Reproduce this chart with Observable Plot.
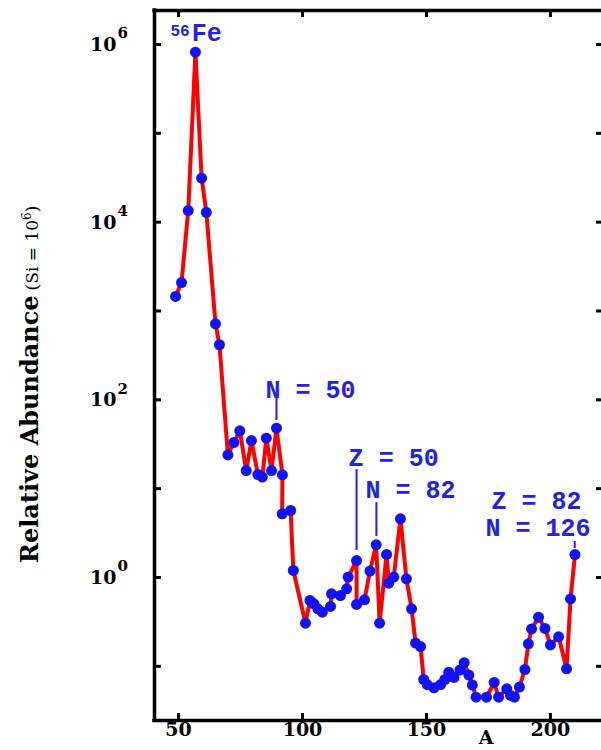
<!DOCTYPE html>
<html>
<head>
<meta charset="utf-8">
<script src="https://cdn.jsdelivr.net/npm/d3@7"></script>
<script src="https://cdn.jsdelivr.net/npm/@observablehq/plot@0.6"></script>
<style>
  body { margin: 0; background: #ffffff; }
  #chart svg { display: block; }
</style>
</head>
<body>
<div id="chart"></div>
<script>
// ---- data ----
const massNumber = [48.8, 51.2, 53.9, 56.8, 59.3, 61.2, 64.9, 66.5, 69.9, 72.3,
  74.7, 77.3, 79.4, 82.0, 83.8, 85.4, 87.5, 89.5, 91.9, 91.8,
  95.2, 96.3, 101.2, 103.0, 104.6, 106.2, 108.0, 111.3, 111.7, 115.3,
  117.8, 118.4, 121.8, 121.8, 125.0, 127.2, 129.7, 131.1, 133.9, 134.8,
  136.8, 139.5, 141.9, 144.0, 145.6, 147.6, 148.9, 150.3, 153.0, 155.7,
  157.4, 159.0, 161.1, 163.5, 165.2, 167.1, 168.5, 170.0, 174.2, 177.3,
  179.1, 182.4, 183.9, 185.5, 187.5, 189.7, 191.1, 192.4, 195.2, 197.8,
  200.0, 203.3, 206.5, 208.1, 209.9];
const abundance = [1460, 2090, 13500, 819000, 31300, 12900, 718, 417, 24.0, 33.1,
  44.8, 16.0, 34.8, 14.4, 13.5, 37.0, 16.0, 48.0, 14.3, 5.21,
  5.68, 1.20, 0.306, 0.551, 0.506, 0.444, 0.407, 0.472, 0.655, 0.627,
  0.746, 1.01, 1.55, 0.497, 0.561, 1.18, 2.33, 0.306, 1.82, 0.863,
  1.01, 4.58, 0.967, 0.444, 0.183, 0.167, 0.0711, 0.0624, 0.0573, 0.0624,
  0.0711, 0.0859, 0.0749, 0.0909, 0.110, 0.0798, 0.0616, 0.0449, 0.0449, 0.0658,
  0.0449, 0.0558, 0.0470, 0.0449, 0.0585, 0.0921, 0.179, 0.264, 0.357, 0.267,
  0.174, 0.215, 0.0938, 0.573, 1.81];

const xTickValues = [50, 100, 150, 200];
const yTickValues = [0.1, 1, 10, 100, 1e3, 1e4, 1e5, 1e6];
const yLabelValues = [1, 100, 1e4, 1e6];
const yLabelExponents = ["0", "2", "4", "6"];

const annotationText = ["N = 50", "Z = 50", "N = 82", "Z = 82", "N = 126"];
const annotationA = [85.1, 118.6, 125.4, 176.2, 173.8];
const annotationValue = [129.7, 22.3, 9.71, 7.30, 3.63];

const guideA = [89.5, 121.8, 129.8, 209.8];
const guideTop = [103.5, 16.4, 6.98, 2.54];
const guideBottom = [58.5, 2.01, 2.90, 2.12];

const feText = ["Fe"], feA = [55.3], feValue = [1.355e6];
const feSupText = ["56"], feSupA = [46.75], feSupValue = [1.44e6];

// ---- layout ----
const W = 601, H = 750;
const mL = 154, mR = 0, mT = 10, mB = 30;
const frameW = W - mL - mR, frameH = H - mT - mB;
const xDomain = [40.3, 220.6];
const yDomain = [0.02456, 2.414e6];
const serif = "DejaVu Serif";
const mono = "Liberation Mono";
const dotBlue = "#1212f2", textBlue = "#2222e4", red = "#ff0000";

const data = massNumber.map((A, i) => ({A, v: abundance[i]}));

const chart = Plot.plot({
  width: W, height: H,
  marginLeft: mL, marginRight: mR, marginTop: mT, marginBottom: mB,
  x: {domain: xDomain, axis: null},
  y: {type: "log", domain: yDomain, axis: null},
  style: {background: "white", fontFamily: serif, color: "black"},
  marks: [
    // ticks (inside)
    Plot.tickX(xTickValues, {x: d => d, insetTop: frameH - 7, stroke: "black", strokeWidth: 3}),
    Plot.tickX(xTickValues, {x: d => d, insetBottom: frameH - 7, stroke: "black", strokeWidth: 3}),
    Plot.tickY(yTickValues, {y: d => d, insetRight: frameW - 7, stroke: "black", strokeWidth: 3}),
    Plot.tickY(yTickValues, {y: d => d, insetLeft: frameW - 5, stroke: "black", strokeWidth: 3}),
    // axis lines
    Plot.ruleX([xDomain[0]], {stroke: "black", strokeWidth: 3.5, strokeLinecap: "square"}),
    Plot.ruleY([yDomain[0]], {stroke: "black", strokeWidth: 3.5, strokeLinecap: "square"}),
    Plot.ruleY([yDomain[1]], {stroke: "black", strokeWidth: 3.5, strokeLinecap: "square"}),
    // tick labels
    Plot.text(xTickValues, {x: d => d, text: d => String(d), frameAnchor: "bottom", dy: 15,
      fontSize: 19, fontWeight: "bold", fontFamily: serif, fill: "black"}),
    Plot.text(yLabelValues, {y: d => d, text: () => "10", frameAnchor: "left", textAnchor: "end",
      dx: -38, dy: 0.5, fontSize: 19, fontWeight: "bold", fontFamily: serif, fill: "black"}),
    Plot.text(yLabelValues, {y: d => d, text: (d, i) => yLabelExponents[i], frameAnchor: "left", textAnchor: "start",
      dx: -37, dy: -11, fontSize: 15, fontWeight: "bold", fontFamily: serif, fill: "black"}),
    // data
    Plot.line(data, {x: "A", y: "v", stroke: red, strokeWidth: 4, strokeLinejoin: "round"}),
    Plot.dot(data, {x: "A", y: "v", r: 5.5, fill: dotBlue, stroke: "none"}),
    // annotations
    Plot.ruleX(guideA, {x: d => d, y1: (d, i) => guideTop[i], y2: (d, i) => guideBottom[i], stroke: textBlue, strokeWidth: 2}),
    Plot.text(annotationText, {x: (d, i) => annotationA[i], y: (d, i) => annotationValue[i], text: d => d,
      textAnchor: "start", fontFamily: mono, fontWeight: "bold", fontSize: 25, fill: textBlue}),
    Plot.text(feText, {x: feA, y: feValue, text: d => d, textAnchor: "start",
      fontFamily: mono, fontWeight: "bold", fontSize: 25, fill: textBlue}),
    Plot.text(feSupText, {x: feSupA, y: feSupValue, text: d => d, textAnchor: "start",
      fontFamily: mono, fontWeight: "bold", fontSize: 16, fill: textBlue})
  ]
});

document.getElementById("chart").appendChild(chart);

// axis titles
const svg = d3.select(chart);
const yTitle = svg.append("text")
  .attr("transform", "translate(38,563) rotate(-90)")
  .attr("fill", "black")
  .attr("text-anchor", "start");
yTitle.append("tspan").attr("font-family", serif).attr("font-weight", "bold").attr("font-size", 24)
  .text("Relative Abundance");
yTitle.append("tspan").attr("font-family", serif).attr("font-weight", "normal").attr("font-size", 17)
  .attr("dx", 5).text("(Si = 10");
yTitle.append("tspan").attr("font-family", serif).attr("font-weight", "normal").attr("font-size", 12)
  .attr("dy", -7).text("6");
yTitle.append("tspan").attr("font-family", serif).attr("font-weight", "normal").attr("font-size", 17)
  .attr("dy", 7).text(")");

svg.append("text")
  .attr("x", 486).attr("y", 744)
  .attr("text-anchor", "middle")
  .attr("font-family", serif).attr("font-weight", "bold").attr("font-size", 19)
  .attr("fill", "black")
  .text("A");
</script>
</body>
</html>
